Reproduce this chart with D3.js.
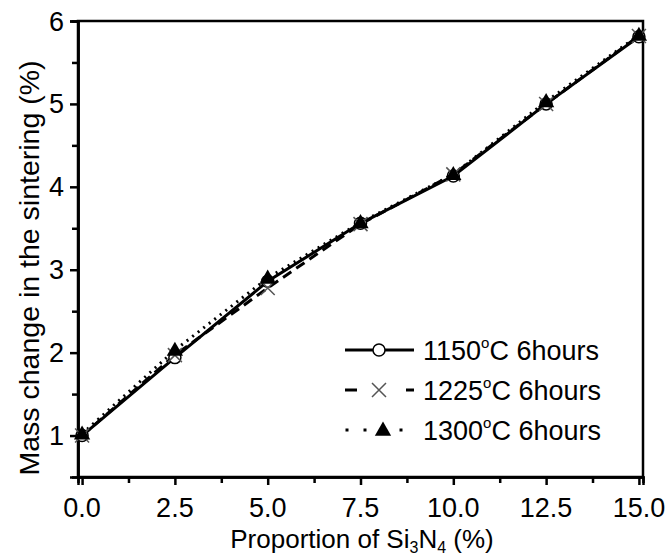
<!DOCTYPE html>
<html>
<head>
<meta charset="utf-8">
<script src="https://cdn.jsdelivr.net/npm/d3@7"></script>
<style>
  html, body { margin: 0; padding: 0; background: #fff; }
  svg { display: block; font-family: "Liberation Sans", Arial, sans-serif; }
</style>
</head>
<body>
<svg id="chart" width="666" height="558"></svg>
<script>
// Si3N4 proportion (%) and mass change after sintering (%)
const proportions = [0, 2.5, 5, 7.5, 10, 12.5, 15];
const mass1150 = [1.00, 1.94, 2.86, 3.56, 4.13, 5.00, 5.81];
const mass1225 = [1.00, 1.97, 2.78, 3.55, 4.15, 5.00, 5.82];
const mass1300 = [1.02, 2.03, 2.90, 3.57, 4.15, 5.03, 5.83];
const seriesLabels = ["1150", "1225", "1300"];
const xTicks = [0, 2.5, 5, 7.5, 10, 12.5, 15];
const yTicks = [1, 2, 3, 4, 5, 6];

const svg = d3.select("#chart");
const L = 78, R = 643, T = 21, B = 477;

const x = d3.scaleLinear().domain([-0.11, 15.11]).range([L, R]);
const y = d3.scaleLinear().domain([0.5, 6]).range([B, T]);

// frame
svg.append("rect").attr("x", L).attr("y", T).attr("width", R - L).attr("height", B - T)
  .attr("fill", "none").attr("stroke", "#000").attr("stroke-width", 2.5);

// x axis: major + minor ticks, labels drawn separately
svg.append("g").attr("transform", `translate(0,${B})`)
  .call(d3.axisBottom(x).tickValues(xTicks).tickFormat("").tickSize(8));
svg.append("g").attr("transform", `translate(0,${B})`)
  .call(d3.axisBottom(x).tickValues(d3.range(1.25, 15, 2.5)).tickFormat("").tickSize(6));

// y axis
svg.append("g").attr("transform", `translate(${L},0)`)
  .call(d3.axisLeft(y).tickValues(yTicks).tickFormat("").tickSize(8));
svg.append("g").attr("transform", `translate(${L},0)`)
  .call(d3.axisLeft(y).tickValues([1.5, 2.5, 3.5, 4.5, 5.5]).tickFormat("").tickSize(6));

svg.selectAll(".domain").attr("stroke-width", 2.5);
svg.selectAll(".tick line").attr("stroke-width", 2.5);

const fmt = d3.format(".1f");
svg.append("g").selectAll("text").data(xTicks).join("text")
  .attr("x", d => x(d)).attr("y", 517).attr("text-anchor", "middle")
  .attr("font-size", 27).attr("fill", "#000").text(d => fmt(d));
svg.append("g").selectAll("text").data(yTicks).join("text")
  .attr("x", 64).attr("y", d => y(d) + 9.5).attr("text-anchor", "end")
  .attr("font-size", 27).attr("fill", "#000").text(d => d);

// axis titles
const xt = svg.append("text").attr("x", 362).attr("y", 548)
  .attr("text-anchor", "middle").attr("font-size", 26).attr("fill", "#000");
xt.append("tspan").text("Proportion of Si");
xt.append("tspan").attr("font-size", 16).attr("dy", 5).text("3");
xt.append("tspan").attr("dy", -5).text("N");
xt.append("tspan").attr("font-size", 16).attr("dy", 5).text("4");
xt.append("tspan").attr("dy", -5).text(" (%)");

svg.append("text").attr("transform", `translate(39,268) rotate(-90)`)
  .attr("text-anchor", "middle").attr("font-size", 28.5).attr("fill", "#000")
  .text("Mass change in the sintering (%)");

// series
const series = [
  { label: seriesLabels[0], values: mass1150, dash: null, marker: "circle" },
  { label: seriesLabels[1], values: mass1225, dash: "10,6", marker: "cross" },
  { label: seriesLabels[2], values: mass1300, dash: "2,5", marker: "triangle" }
];

const line = d3.line().x((d, i) => x(proportions[i])).y(d => y(d));

function drawMarker(g, type, cx, cy) {
  if (type === "circle") {
    g.append("circle").attr("cx", cx).attr("cy", cy).attr("r", 6)
      .attr("fill", "#fff").attr("stroke", "#000").attr("stroke-width", 1.5);
  } else if (type === "cross") {
    const s = 7;
    g.append("path").attr("d", `M${cx - s},${cy - s}L${cx + s},${cy + s}M${cx - s},${cy + s}L${cx + s},${cy - s}`)
      .attr("stroke", "#555").attr("stroke-width", 1.5);
  } else {
    g.append("path")
      .attr("d", d3.symbol().type(d3.symbolTriangle).size(115)())
      .attr("transform", `translate(${cx},${cy + 1})`).attr("fill", "#000");
  }
}

series.forEach(s => {
  svg.append("path").datum(s.values).attr("d", line)
    .attr("fill", "none").attr("stroke", "#000").attr("stroke-width", 3)
    .attr("stroke-dasharray", s.dash);
});
series.forEach(s => {
  const g = svg.append("g");
  s.values.forEach((v, i) => drawMarker(g, s.marker, x(proportions[i]), y(v)));
});

// legend
const legY = [350, 390, 430];
series.forEach((s, i) => {
  const g = svg.append("g");
  const ly = legY[i];
  if (s.marker === "circle") {
    g.append("line").attr("x1", 345).attr("x2", 373).attr("y1", ly).attr("y2", ly).attr("stroke", "#000").attr("stroke-width", 3);
    g.append("line").attr("x1", 385).attr("x2", 414).attr("y1", ly).attr("y2", ly).attr("stroke", "#000").attr("stroke-width", 3);
  } else if (s.marker === "cross") {
    g.append("line").attr("x1", 345).attr("x2", 357).attr("y1", ly).attr("y2", ly).attr("stroke", "#000").attr("stroke-width", 3);
    g.append("line").attr("x1", 406).attr("x2", 414).attr("y1", ly).attr("y2", ly).attr("stroke", "#000").attr("stroke-width", 3);
  } else {
    [347, 365, 401].forEach(dx => g.append("rect").attr("x", dx - 1.5).attr("y", ly - 1.5).attr("width", 3).attr("height", 3).attr("fill", "#000"));
  }
  drawMarker(g, s.marker, s.marker === "triangle" ? 383 : 379, ly);
  const t = g.append("text").attr("x", 423).attr("y", ly + 10).attr("font-size", 27).attr("fill", "#000");
  t.append("tspan").text(s.label);
  t.append("tspan").attr("font-size", 15).attr("dy", -12).text("o");
  t.append("tspan").attr("dy", 12).text("C 6hours");
});
</script>
</body>
</html>
